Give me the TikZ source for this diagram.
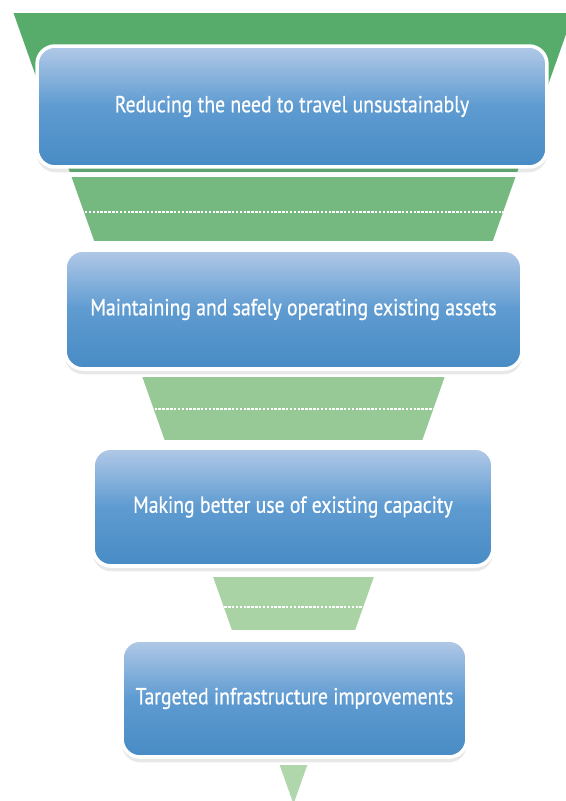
\documentclass[tikz,border=0pt]{standalone}
\usepackage{fontspec}
\newfontfamily\boxfont[FakeStretch=0.85, FakeBold=0.6]{PT Sans}
\usepackage{tikz}
\usetikzlibrary{shadows}

\definecolor{greenA}{HTML}{58AC6B}
\definecolor{greenB}{HTML}{76B980}
\definecolor{greenC}{HTML}{97C996}
\definecolor{greenD}{HTML}{A9D3A5}
\definecolor{greenE}{HTML}{B0D6AB}
\definecolor{boxtop}{HTML}{B2C9E7}
\definecolor{boxmid}{HTML}{5E9BD1}
\definecolor{boxbot}{HTML}{488BC4}

\tikzset{
  box/.style={rectangle, rounded corners=0.36cm, draw=white, line width=2pt,
    top color=boxtop, bottom color=boxbot, middle color=boxmid,
    text=white, font=\boxfont\fontsize{13.2}{15}\selectfont,
    drop shadow={opacity=0.18, shadow xshift=0pt, shadow yshift=-3pt}},
  dashline/.style={white, line width=0.9pt, dash pattern=on 1.4pt off 0.8pt}
}

\begin{document}
\begin{tikzpicture}[x=0.02cm, y=-0.02cm]
			\useasboundingbox (0,0) rectangle (565,801);
			\fill[white] (0,0) rectangle (565,801);
			
			% funnel behind the boxes
			\begin{scope}
				\clip (13.5,13) -- (573.5,13) -- (293.5,804) -- cycle;
				\fill[greenA] (0,13) rectangle (600,172);
				\fill[greenB] (0,177) rectangle (600,241);
				\fill[greenC] (0,377) rectangle (600,440);
				\fill[greenD] (0,577) rectangle (600,630);
				\fill[greenE] (0,765) rectangle (600,810);
				
				\draw[dashline] (0,212) -- (600,212);
				\draw[dashline] (0,409) -- (600,409);
				\draw[dashline] (0,607) -- (600,607);
			\end{scope}
			
			\node[box, minimum width=10.2cm, minimum height=2.42cm] (1) at (292,106.5) {Reducing the need to travel unsustainably};
			\node[box, minimum width=9.14cm, minimum height=2.38cm] (2) at (293.5,309.5) {Maintaining and safely operating existing assets};
			\node[box, minimum width=8cm, minimum height=2.36cm] (3) at (293,507) {Making better use of existing capacity};
			\node[box, minimum width=6.9cm, minimum height=2.34cm] (4) at (294.5,698.5) {Targeted infrastructure improvements};
			
		\end{tikzpicture}
\end{document}
